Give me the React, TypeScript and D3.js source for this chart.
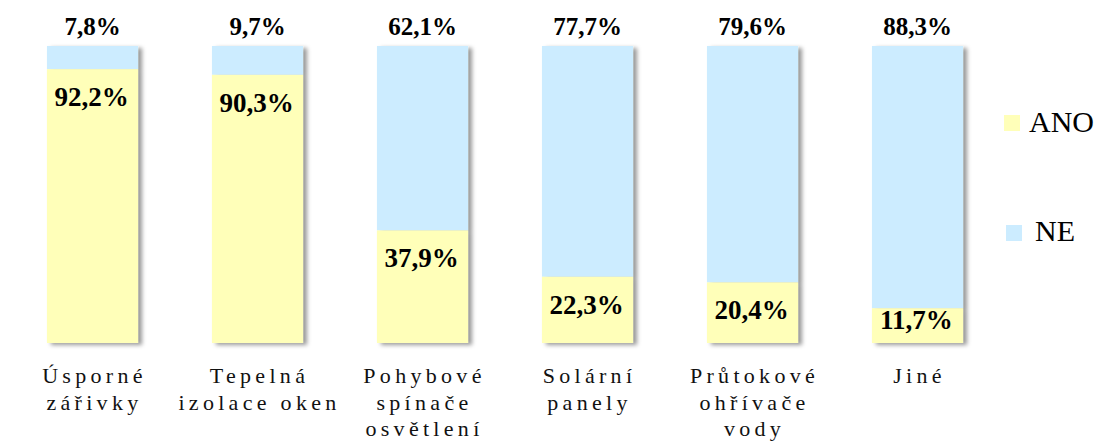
import { scaleBand, scaleLinear } from "d3";

const W = 1098;
const H = 442;
const M = { top: 46, bottom: 343, left: 10, right: 1000 };

const categories = [
  ["Úsporné", "zářivky"],
  ["Tepelná", "izolace oken"],
  ["Pohybové", "spínače", "osvětlení"],
  ["Solární", "panely"],
  ["Průtokové", "ohřívače", "vody"],
  ["Jiné"],
];
const ano = [92.2, 90.3, 37.9, 22.3, 20.4, 11.7];
const ne = [7.8, 9.7, 62.1, 77.7, 79.6, 88.3];
const series = ["ANO", "NE"];

const YELLOW = "#FFFFB9";
const BLUE = "#CCECFF";
const serif = '"Liberation Serif", "DejaVu Serif", serif';

const fmt = (v: number) => `${v.toFixed(1).replace(".", ",")}%`;

export default function App() {
  const keys = categories.map((c) => c.join(" "));
  const x = scaleBand<string>()
    .domain(keys)
    .range([M.left, M.right])
    .paddingInner(0.448)
    .paddingOuter(0.224);
  const y = scaleLinear().domain([0, 100]).range([M.bottom, M.top]);
  const bw = x.bandwidth();

  return (
    <div style={{ position: "fixed", inset: 0, background: "#fff" }}>
      <svg width={W} height={H} style={{ display: "block", fontFamily: serif }}>
        <defs>
          <filter id="shadow" x="-10%" y="-10%" width="130%" height="130%">
            <feDropShadow dx={4} dy={2} stdDeviation={2} floodColor="#000" floodOpacity={0.4} />
          </filter>
        </defs>

        {/* axis line */}
        <line
          x1={M.left}
          x2={M.right}
          y1={M.bottom + 1}
          y2={M.bottom + 1}
          stroke="#d9d9d9"
          strokeWidth={2}
          filter="url(#shadow)"
        />

        {keys.map((k, i) => {
          const x0 = x(k) ?? 0;
          const yTop = y(ano[i]);
          const barH = M.bottom - yTop;
          return (
            <g key={k}>
              <g filter="url(#shadow)">
                <rect x={x0} y={y(100)} width={bw} height={yTop - y(100)} fill={BLUE} />
                <rect x={x0} y={yTop} width={bw} height={barH} fill={YELLOW} />
              </g>
              <text
                x={x0 + bw / 2}
                y={M.top - 11}
                textAnchor="middle"
                fontWeight="bold"
                fontSize={25}
              >
                {fmt(ne[i])}
              </text>
              <text
                x={x0 + bw / 2 - 1}
                y={yTop + Math.min(37, barH * 0.6)}
                textAnchor="middle"
                fontWeight="bold"
                fontSize={27}
              >
                {fmt(ano[i])}
              </text>
              {categories[i].map((ln, j) => (
                <text
                  key={ln}
                  x={x0 + bw / 2 + 2}
                  y={383 + j * 26.5}
                  textAnchor="middle"
                  fontSize={22}
                  letterSpacing={4.3}
                  fill="#111"
                >
                  {ln}
                </text>
              ))}
            </g>
          );
        })}

        {/* legend */}
        <rect x={1004} y={115} width={16} height={16} fill={YELLOW} />
        <text x={1029} y={132} fontSize={30}>
          {series[0]}
        </text>
        <rect x={1006} y={225} width={16} height={16} fill={BLUE} />
        <text x={1035} y={241} fontSize={30}>
          {series[1]}
        </text>
      </svg>
    </div>
  );
}
